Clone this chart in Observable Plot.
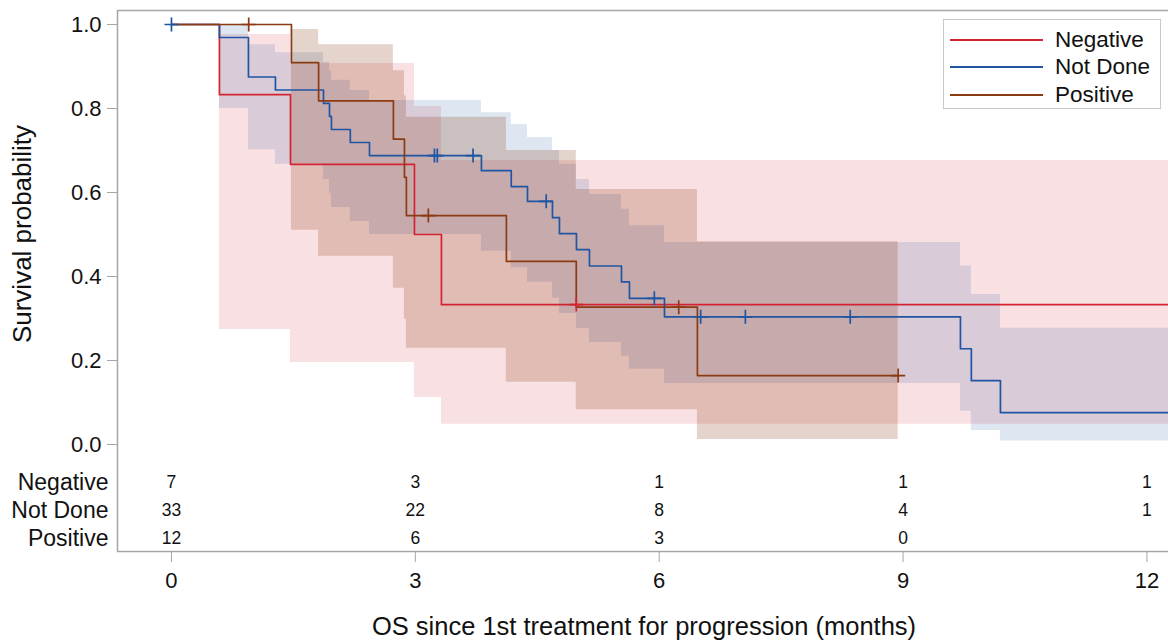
<!DOCTYPE html>
<html><head><meta charset="utf-8">
<script src="https://cdn.jsdelivr.net/npm/d3@7"></script>
<script src="https://cdn.jsdelivr.net/npm/@observablehq/plot@0.6"></script>
<style>
body{margin:0;background:#fff;font-family:"Liberation Sans",Arial,sans-serif;color:#111;}
#wrap{position:relative;width:1168px;height:641px;overflow:hidden;}
.legend{position:absolute;left:943px;top:19px;width:218px;height:90px;border:1px solid #c8c8c8;background:#fff;box-sizing:border-box;}
.item{position:absolute;left:0;height:0;}
.item .ln{position:absolute;left:6px;width:93px;height:0;border-top:2px solid;top:-1px;}
.item .tx{position:absolute;left:111px;top:-13px;font-size:22.5px;line-height:26px;white-space:nowrap;}
</style></head><body><div id="wrap"></div>
<script>
// ---------- data ----------
const groups = ["Negative", "Not Done", "Positive"];
const colors = ["#d42433", "#1f55a3", "#8a3b12"];
const bandOpacity = [0.14, 0.15, 0.22];

// Negative
const negTime  = [0, 0.59, 1.464, 2.989, 3.321, 12.5];
const negSurv  = [1, 0.833, 0.667, 0.5, 0.333, 0.333];
const negLower = [null, 0.274, 0.195, 0.112, 0.048, 0.048];
const negUpper = [null, 0.976, 0.907, 0.805, 0.676, 0.676];
const negCensor = [4.98];

// Not Done
const ndTime  = [0, 0.59, 0.947, 1.279, 1.87, 1.944, 1.968, 2.20, 2.436, 3.813, 4.18, 4.38, 4.687, 4.773, 4.982, 5.142, 5.536, 5.634, 6.065, 9.706, 9.84, 10.198, 12.5];
const ndSurv  = [1, 0.969, 0.875, 0.844, 0.812, 0.781, 0.75, 0.719, 0.688, 0.652, 0.614, 0.579, 0.540, 0.502, 0.464, 0.425, 0.387, 0.348, 0.304, 0.228, 0.152, 0.076, 0.076];
const ndLower = [null, 0.80, 0.702, 0.667, 0.631, 0.598, 0.564, 0.531, 0.50, 0.46, 0.421, 0.386, 0.348, 0.312, 0.276, 0.243, 0.21, 0.179, 0.145, 0.079, 0.033, 0.008, 0.008];
const ndUpper = [null, 1.0, 0.952, 0.933, 0.91, 0.89, 0.867, 0.843, 0.819, 0.79, 0.762, 0.731, 0.70, 0.667, 0.631, 0.595, 0.56, 0.521, 0.481, 0.425, 0.357, 0.277, 0.277];
const ndCensor = [0.0, 3.235, 3.27, 3.71, 4.61, 5.94, 6.51, 7.06, 8.35];

// Positive
const posTime  = [0, 1.476, 1.81, 2.73, 2.866, 2.89, 4.12, 4.98, 6.47, 8.94];
const posSurv  = [1, 0.909, 0.818, 0.727, 0.636, 0.545, 0.436, 0.327, 0.164, 0.164];
const posLower = [null, 0.51, 0.448, 0.372, 0.298, 0.229, 0.148, 0.083, 0.012, 0.012];
const posUpper = [null, 0.988, 0.952, 0.89, 0.83, 0.779, 0.70, 0.607, 0.483, 0.483];
const posCensor = [0.95, 3.16, 6.24, 8.94];

// Number at risk
const riskTimes = [0, 3, 6, 9, 12];
const riskNeg = [7, 3, 1, 1, 1];
const riskND  = [33, 22, 8, 4, 1];
const riskPos = [12, 6, 3, 0, null];

const xTicks = [0, 3, 6, 9, 12];
const yTicks = [0, 0.2, 0.4, 0.6, 0.8, 1.0];
const xLabel = "OS since 1st treatment for progression (months)";
const yLabel = "Survival probability";

// ---------- build tables ----------
const series = [
  {time: negTime, surv: negSurv, lo: negLower, hi: negUpper, cens: negCensor, risk: riskNeg},
  {time: ndTime, surv: ndSurv, lo: ndLower, hi: ndUpper, cens: ndCensor, risk: riskND},
  {time: posTime, surv: posSurv, lo: posLower, hi: posUpper, cens: posCensor, risk: riskPos}
];
const lineRows = [], bandRows = [[], [], []], censRows = [], riskRows = [[], [], []];
series.forEach((s, g) => {
  s.time.forEach((t, i) => {
    lineRows.push({group: groups[g], t, s: s.surv[i]});
    if (s.lo[i] != null) bandRows[g].push({t, lo: s.lo[i], hi: s.hi[i]});
  });
  s.cens.forEach(t => {
    let v = 1;
    s.time.forEach((tt, i) => { if (tt <= t) v = s.surv[i]; });
    censRows.push({group: groups[g], t, s: v});
  });
  riskTimes.forEach((t, i) => { if (s.risk[i] != null) riskRows[g].push({t, n: String(s.risk[i])}); });
});

const plusSymbol = {
  draw(ctx, size) {
    const h = Math.sqrt(size / Math.PI);
    ctx.moveTo(-h, 0); ctx.lineTo(h, 0);
    ctx.moveTo(0, -h); ctx.lineTo(0, h);
  }
};

const rowDy = [-69, -41, -13];
const gray = "#a6a6a6";

const marks = [];
groups.forEach((g, i) => {
  marks.push(Plot.areaY(bandRows[i], {x: "t", y1: "lo", y2: "hi", curve: "step-after",
    fill: colors[i], fillOpacity: bandOpacity[i], clip: true}));
});
marks.push(
  Plot.line(lineRows, {x: "t", y: "s", z: "group", stroke: "group", curve: "step-after", strokeWidth: 1.7, clip: true}),
  Plot.dot(censRows, {x: "t", y: "s", stroke: "group", symbol: plusSymbol, r: 7, fill: "none", strokeWidth: 1.7}),
  Plot.frame({stroke: gray, strokeWidth: 1.5}),
  Plot.axisY({ticks: yTicks, tickFormat: d3.format(".1f"), tickSize: 10, tickPadding: 6, stroke: gray, label: null, fontSize: 22, fill: "#111"}),
  Plot.axisX({ticks: xTicks, tickFormat: d3.format("d"), tickSize: 11, tickPadding: 10, stroke: gray, label: null, fontSize: 22, fill: "#111"}),
  Plot.text([xLabel], {text: d => d, frameAnchor: "bottom", lineAnchor: "middle", textAnchor: "middle", dy: 75, fontSize: 25.5, fill: "#111"}),
  Plot.text([yLabel], {text: d => d, frameAnchor: "left", lineAnchor: "middle", textAnchor: "middle", rotate: -90, dx: -95, dy: -47, fontSize: 26, fill: "#111"})
);
groups.forEach((g, i) => {
  marks.push(Plot.text(riskRows[i], {x: "t", text: "n", frameAnchor: "bottom", lineAnchor: "middle", dy: rowDy[i], fontSize: 17.5, fill: "#111"}));
  marks.push(Plot.text([g], {text: d => d, frameAnchor: "bottom-left", lineAnchor: "middle", dx: -9, dy: rowDy[i], textAnchor: "end", fontSize: 23, fill: "#111"}));
});

const chart = Plot.plot({
  width: 1168, height: 641,
  marginLeft: 117, marginRight: -2, marginTop: 10, marginBottom: 90,
  style: {fontFamily: '"Liberation Sans", Arial, sans-serif', background: "#fff", overflow: "visible"},
  x: {domain: [-0.664, 12.29]},
  y: {domain: [-0.2548, 1.0333]},
  color: {domain: groups, range: colors},
  marks
});
const wrap = document.getElementById("wrap");
wrap.appendChild(chart);

// legend
const leg = document.createElement("div");
leg.className = "legend";
[20, 47, 75].forEach((top, i) => {
  const it = document.createElement("div");
  it.className = "item"; it.style.top = top + "px";
  it.innerHTML = `<div class="ln" style="border-color:${colors[i]}"></div><div class="tx">${groups[i]}</div>`;
  leg.appendChild(it);
});
wrap.appendChild(leg);
</script>
</body></html>
